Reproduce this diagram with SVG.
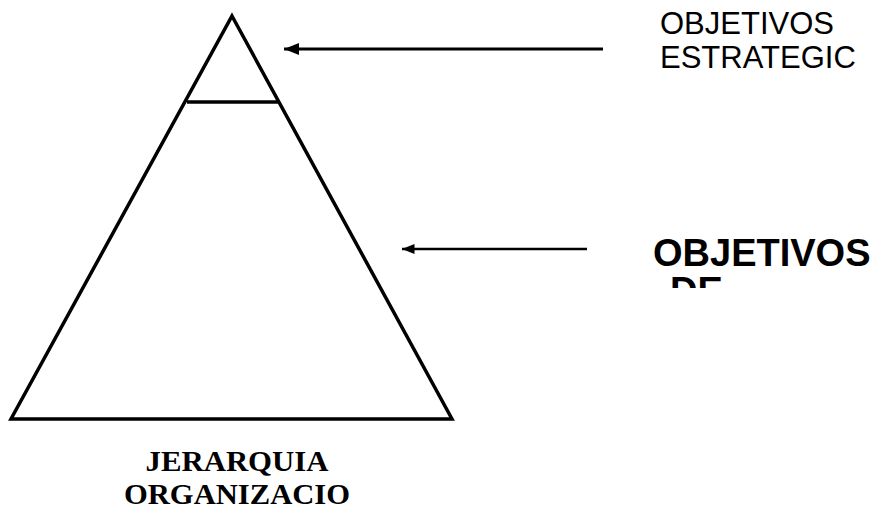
<svg xmlns="http://www.w3.org/2000/svg" width="870" height="511" viewBox="0 0 870 511">
<defs>
<style>
.ln{stroke:#000;fill:none;stroke-linecap:butt;stroke-linejoin:miter}
.sm{font-family:"Liberation Sans",Arial,sans-serif;font-size:31px;fill:#000}
.bg{font-family:"Liberation Sans",Arial,sans-serif;font-size:38px;font-weight:bold;fill:#000}
.sr{font-family:"Liberation Serif","Times New Roman",serif;font-size:29px;font-weight:bold;fill:#000;text-anchor:middle}
</style>
<marker id="ah" markerWidth="5" markerHeight="4" refX="5" refY="2" orient="auto" markerUnits="strokeWidth">
<path d="M0,0 L5,2 L0,4 Z" fill="#000"/>
</marker>
<clipPath id="clipDe"><rect x="600" y="270" width="270" height="18"/></clipPath>
</defs>
<rect width="870" height="511" fill="#fff"/>
<g id="pyramid">
<polygon class="ln" stroke-width="3.5" points="232,16 452,419 11,419"/>
<line class="ln" stroke-width="3.5" x1="187" y1="102" x2="279" y2="102"/>
</g>
<g id="connectors">
<line class="ln" stroke-width="3" x1="603" y1="49" x2="284" y2="49" marker-end="url(#ah)"/>
<line class="ln" stroke-width="2.5" x1="587" y1="249" x2="402" y2="249" marker-end="url(#ah)"/>
</g>
<g id="label-estrategic">
<text class="sm" x="660" y="34">OBJETIVOS</text>
<text class="sm" x="660" y="68">ESTRATEGIC</text>
</g>
<g id="label-de">
<text class="bg" x="653" y="266">OBJETIVOS</text>
<text class="bg" x="670" y="304" clip-path="url(#clipDe)">DE</text>
</g>
<g id="label-jerarquia">
<text class="sr" x="237" y="471" textLength="183" lengthAdjust="spacingAndGlyphs">JERARQUIA</text>
<text class="sr" x="237" y="504" textLength="226" lengthAdjust="spacingAndGlyphs">ORGANIZACIO</text>
</g>
</svg>
